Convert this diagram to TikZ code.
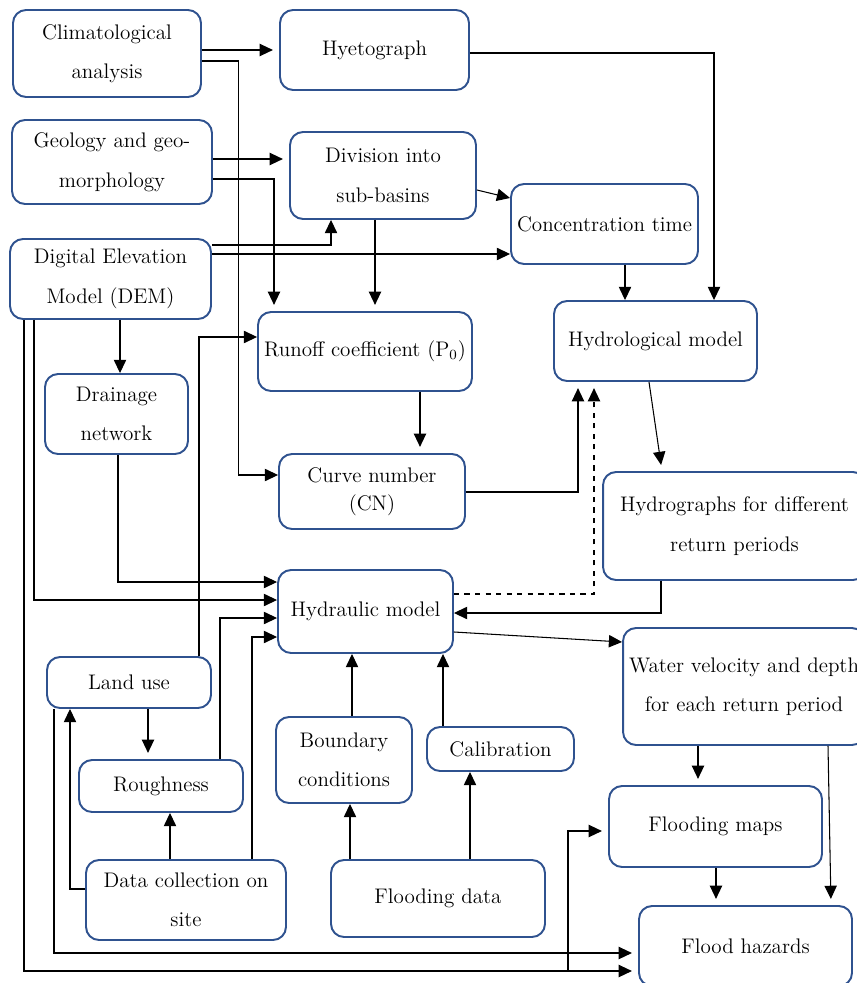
\documentclass[tikz,border=0pt]{standalone}
\usepackage{tikz}
\usetikzlibrary{arrows.meta,calc,positioning}
\definecolor{boxblue}{RGB}{47,82,143}
\tikzset{
  box/.style={draw=boxblue, line width=1.1pt, rounded corners=0.26cm, fill=white, align=center, inner sep=1pt, font=\fontsize{12}{22.5}\selectfont},
  arr/.style={-{Triangle[length=7.5pt,width=7pt]}, line width=0.6pt},
  gap/.style={shorten >=3.5pt},
  feedback/.style={dashed}
}
\begin{document}
\begin{tikzpicture}[x=0.02cm, y=-0.02cm]
  \useasboundingbox (0,0) rectangle (857,983);
  \clip (0,0) rectangle (857,983);
  % boxes
  \node[box, minimum width=3.76cm, minimum height=1.74cm] (clim) at (107,53.5) {Climatological\\analysis};
  \node[box, minimum width=3.78cm, minimum height=1.60cm] (hyet) at (374.5,50) {Hyetograph};
  \node[box, minimum width=4.00cm, minimum height=1.68cm] (geo) at (112,162) {Geology and geo-\\morphology};
  \node[box, minimum width=3.72cm, minimum height=1.74cm] (div) at (383,175.5) {Division into\\sub-basins};
  \node[box, minimum width=3.74cm, minimum height=1.60cm] (conc) at (604.5,224) {Concentration time};
  \node[box, minimum width=4.02cm, minimum height=1.60cm] (dem) at (110.5,279) {Digital Elevation\\Model (DEM)};
  \node[box, minimum width=4.28cm, minimum height=1.58cm] (runoff) at (365,351.5) {Runoff coefficient (P$_0$)};
  \node[box, minimum width=4.06cm, minimum height=1.60cm] (hydro) at (655.5,341) {Hydrological model};
  \node[box, minimum width=2.86cm, minimum height=1.60cm] (drain) at (116.5,414) {Drainage\\network};
  \node[box, minimum width=3.72cm, minimum height=1.50cm, font=\fontsize{12}{16}\selectfont] (cn) at (372,491.5) {Curve number\\(CN)};
  \node[box, minimum width=5.26cm, minimum height=2.16cm] (hgraph) at (734.5,526) {Hydrographs for different\\return periods};
  \node[box, minimum width=3.50cm, minimum height=1.66cm] (hydraulic) at (365.5,611.5) {Hydraulic model};
  \node[box, minimum width=4.84cm, minimum height=2.34cm] (water) at (744,686.5) {Water velocity and depth\\for each return period};
  \node[box, minimum width=3.28cm, minimum height=1.02cm] (landuse) at (129,682.5) {Land use};
  \node[box, minimum width=3.28cm, minimum height=1.04cm] (rough) at (161,786) {Roughness};
  \node[box, minimum width=2.72cm, minimum height=1.72cm] (bound) at (344,760) {Boundary\\conditions};
  \node[box, minimum width=2.94cm, minimum height=0.88cm] (calib) at (500.5,749) {Calibration};
  \node[box, minimum width=4.26cm, minimum height=1.62cm] (fmaps) at (715.5,826.5) {Flooding maps};
  \node[box, minimum width=4.00cm, minimum height=1.60cm] (datacol) at (186,900) {Data collection on\\site};
  \node[box, minimum width=4.28cm, minimum height=1.54cm] (fdata) at (438,898.5) {Flooding data};
  \node[box, minimum width=4.26cm, minimum height=1.60cm] (fhaz) at (745.5,946) {Flood hazards};
  \coordinate (split) at (568,971);

  % upper part
  \draw[arr,gap] (clim.east |- 0,50) -- (hyet.west |- 0,50);
  \draw[arr] (clim.east |- 0,61) -- ++(37,0) |- (cn.west |- 0,475);
  \draw[arr,gap] (geo.east |- 0,159) -- (div.west |- 0,159);
  \draw[arr,gap] (geo.east |- 0,179) -| (runoff.north -| 274,0);
  \draw[arr] (dem.east |- 0,245) -| (div.south -| 331,0);
  \draw[arr] (dem.east |- 0,254) -- (conc.west |- 0,254);
  \draw[arr] (div.east |- 0,190) -- (conc.west |- 0,198);
  \draw[arr,gap] (div.south -| 375,0) -- (runoff.north -| 375,0);
  \draw[arr] (hyet.east |- 0,53) -| (hydro.north -| 714,0);
  \draw[arr] (conc.south -| 625,0) -- (hydro.north -| 625,0);
  \draw[arr] (dem.south -| 120,0) -- (drain.north -| 120,0);
  \draw[arr,gap] (runoff.south -| 420,0) -- (cn.north -| 420,0);
  \draw[arr,gap] (cn.east |- 0,492) -| (hydro.south -| 578,0);
  \draw[arr,gap,feedback] (hydraulic.east |- 0,594) -| (hydro.south -| 594,0);
  \draw[arr,gap] (hydro.south -| 649,0) -- (hgraph.north -| 662,0);

  % inputs of the hydraulic model
  \draw[arr] (dem.south -| 34,0) |- (hydraulic.west |- 0,600);
  \draw[arr] (drain.south -| 118,0) |- (hydraulic.west |- 0,582);
  \draw[arr] (landuse.north -| 199,0) |- (runoff.west |- 0,337);
  \draw[arr] (rough.north -| 220,0) |- (hydraulic.west |- 0,618);
  \draw[arr] (datacol.north -| 252,0) |- (hydraulic.west |- 0,637);
  \draw[arr,gap] (landuse.south -| 148,0) -- (rough.north -| 148,0);
  \draw[arr] (datacol.north -| 170,0) -- (rough.south -| 170,0);
  \draw[arr] (datacol.west |- 0,889) -| (landuse.south -| 70,0);
  \draw[arr] (bound.north -| 352,0) -- (hydraulic.south -| 352,0);
  \draw[arr] (calib.north -| 443,0) -- (hydraulic.south -| 443,0);
  \draw[arr] (fdata.north -| 350,0) -- (bound.south -| 350,0);
  \draw[arr] (fdata.north -| 470,0) -- (calib.south -| 470,0);
  \draw[arr] (hgraph.south -| 661,0) |- (hydraulic.east |- 0,613);

  % outputs
  \draw[arr] (hydraulic.east |- 0,632) -- (water.west |- 0,642);
  \draw[arr,gap] (water.south -| 698,0) -- (fmaps.north -| 698,0);
  \draw[arr,gap] (water.south -| 828,0) -- (fhaz.north -| 831,0);
  \draw[arr,gap] (fmaps.south -| 716,0) -- (fhaz.north -| 716,0);
  \draw[arr,gap] (landuse.south -| 54,0) |- (fhaz.west |- 0,953);
  \draw[arr,gap] (dem.south -| 24,0) |- (fhaz.west |- 0,971);
  \draw[arr,gap] (split) |- (fmaps.west |- 0,831);
\end{tikzpicture}
\end{document}
